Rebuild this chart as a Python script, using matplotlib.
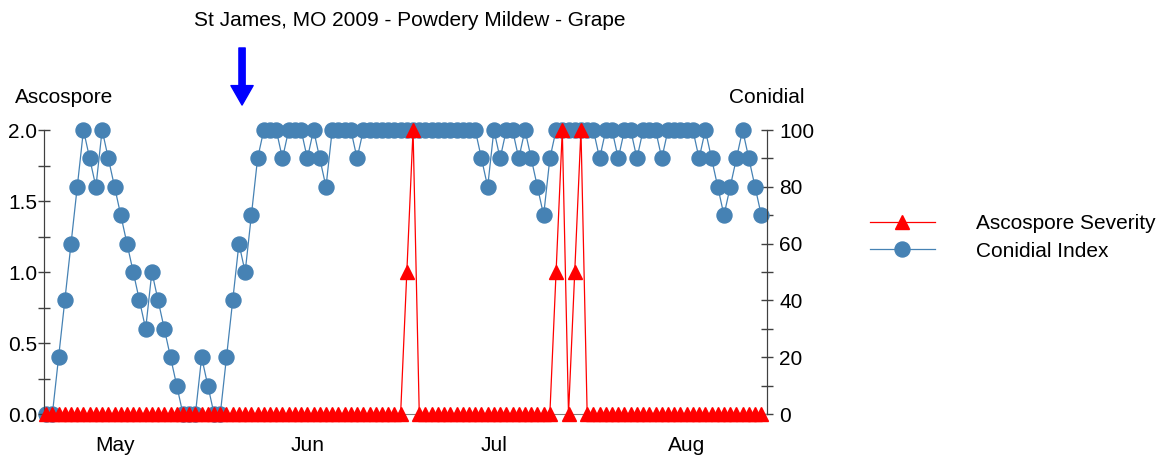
import matplotlib
matplotlib.use("Agg")
import matplotlib.pyplot as plt
import matplotlib.dates as mdates
import numpy as np
import pandas as pd

# daily readings, starting 20 Apr 2009
start_date = "2009-04-20"

conidial_index = [0, 0, 20, 40, 60, 80, 100, 90, 80, 100,       # 0-9
                  90, 80, 70, 60, 50, 40, 30, 50, 40, 30,        # 10-19
                  20, 10, 0, 0, 0, 20, 10, 0, 0, 20,             # 20-29
                  40, 60, 50, 70, 90, 100, 100, 100, 90, 100,    # 30-39
                  100, 100, 90, 100, 90, 80, 100, 100, 100, 100, # 40-49
                  90, 100, 100, 100, 100, 100, 100, 100, 100, 100,
                  100, 100, 100, 100, 100, 100, 100, 100, 100, 100,
                  90, 80, 100, 90, 100, 100, 90, 100, 90, 80,    # 70-79
                  70, 90, 100, 100, 100, 100, 100, 100, 100, 90,
                  100, 100, 90, 100, 100, 90, 100, 100, 100, 90,
                  100, 100, 100, 100, 100, 90, 100, 90, 80, 70,
                  80, 90, 100, 90, 80, 70]

ascospore_severity = [0, 0, 0, 0, 0, 0, 0, 0, 0, 0,
                      0, 0, 0, 0, 0, 0, 0, 0, 0, 0,
                      0, 0, 0, 0, 0, 0, 0, 0, 0, 0,
                      0, 0, 0, 0, 0, 0, 0, 0, 0, 0,
                      0, 0, 0, 0, 0, 0, 0, 0, 0, 0,
                      0, 0, 0, 0, 0, 0, 0, 0, 1.0, 2.0,
                      0, 0, 0, 0, 0, 0, 0, 0, 0, 0,
                      0, 0, 0, 0, 0, 0, 0, 0, 0, 0,
                      0, 0, 1.0, 2.0, 0, 1.0, 2.0, 0, 0, 0,
                      0, 0, 0, 0, 0, 0, 0, 0, 0, 0,
                      0, 0, 0, 0, 0, 0, 0, 0, 0, 0,
                      0, 0, 0, 0, 0, 0]

arrow_date = "2009-05-21 12:00"  # blue marker above the chart
title = "St James, MO 2009 - Powdery Mildew - Grape"

plt.rcParams['font.family'] = ['Liberation Sans', 'DejaVu Sans']
FS = 15
AX_COL = '#404040'

dates = pd.date_range(start_date, periods=len(conidial_index), freq='D')

fig = plt.figure(figsize=(11.64, 4.59), dpi=100)
ax = fig.add_axes([0.0381, 0.098, 0.6206, 0.6187])
ax2 = ax.twinx()

# conidial on right axis, ascospore on left axis (drawn on top)
l2, = ax2.plot(dates, conidial_index, color='#4682B4', lw=0.9, marker='o', ms=10.8,
               clip_on=False, zorder=3, label='Conidial Index')
l1, = ax.plot(dates, ascospore_severity, color='#FF0000', lw=0.9, marker='^', ms=10.5,
              clip_on=False, zorder=3, label='Ascospore Severity')
ax.set_zorder(ax2.get_zorder() + 1)
ax.patch.set_visible(False)

ax.set_ylim(0, 2)
ax2.set_ylim(0, 100)
ax.set_xlim(dates[0] - pd.Timedelta(hours=7), dates[-1] + pd.Timedelta(hours=21))

ax.set_yticks(np.arange(0, 2.01, 0.5))
ax.set_yticks(np.arange(0, 2.01, 0.25), minor=True)
ax.yaxis.set_major_formatter(matplotlib.ticker.FormatStrFormatter('%.1f'))
ax2.set_yticks(np.arange(0, 101, 20))
ax2.set_yticks(np.arange(0, 101, 10), minor=True)

ax.tick_params(axis='y', which='both', direction='inout', length=8, width=1,
               color=AX_COL, labelsize=FS, pad=1)
ax2.tick_params(axis='y', which='both', direction='inout', length=8, width=1,
                color=AX_COL, labelsize=FS, pad=5)

ax.xaxis.set_major_locator(mdates.MonthLocator())
ax.xaxis.set_major_formatter(mdates.DateFormatter('%b'))
ax.tick_params(axis='x', length=0, labelsize=FS, pad=15.5)

for a in (ax, ax2):
    a.spines['top'].set_visible(False)
    a.spines['left'].set_color(AX_COL)
    a.spines['right'].set_color(AX_COL)
ax.spines['bottom'].set_visible(False)
ax2.spines['bottom'].set_color('#808080')

# axis titles above the axes
fig.text(15 / 1164, 1 - 97 / 459, 'Ascospore', ha='left', va='center', fontsize=FS)
fig.text(805 / 1164, 1 - 97 / 459, 'Conidial', ha='right', va='center', fontsize=FS)
fig.text(410 / 1164, 1 - 20 / 459, title, ha='center', va='center', fontsize=FS)

# blue arrow
ax_x = mdates.date2num(pd.Timestamp(arrow_date))
ax.annotate('', xy=(ax_x, 1.088), xytext=(ax_x, 1.289),
            xycoords=('data', 'axes fraction'), textcoords=('data', 'axes fraction'),
            arrowprops=dict(facecolor='#0000FF', edgecolor='#0000FF', width=4.5,
                            headwidth=16, headlength=14, shrink=0),
            annotation_clip=False)

fig.legend(handles=[l1, l2], loc='upper left', bbox_to_anchor=(870 / 1164, 1 - 214 / 459),
           frameon=False, fontsize=FS, handlelength=3.1, handletextpad=2.0,
           labelspacing=0.42, borderpad=0, borderaxespad=0, numpoints=1)

fig.savefig('out.png', dpi=100)
plt.close()
